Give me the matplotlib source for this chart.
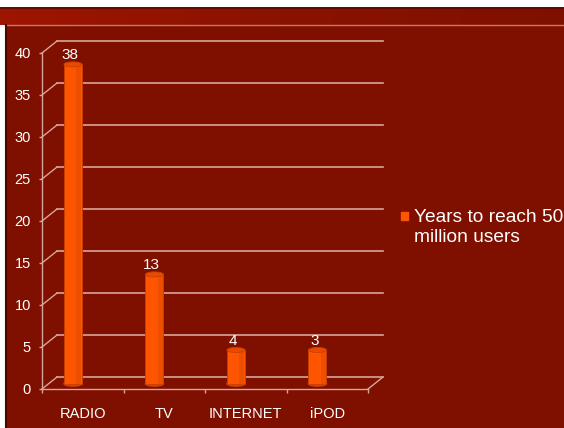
import matplotlib
matplotlib.use("Agg")
import matplotlib.pyplot as plt
import numpy as np
from matplotlib.patches import Rectangle, Ellipse
from matplotlib.colors import LinearSegmentedColormap

plt.rcParams["font.family"] = ["Liberation Sans", "DejaVu Sans"]

categories = ["RADIO", "TV", "INTERNET", "iPOD"]
years = [38, 13, 4, 4]              # bar heights as drawn
value_labels = ["38", "13", "4", "3"]  # labels as printed on the chart
legend_label = "Years to reach 50\nmillion users"
yticks = list(range(0, 41, 5))

W, H, DPI = 564, 428, 100
BG = "#7f1000"
GRID = "#d9a49b"
BAR = "#ff5500"

fig = plt.figure(figsize=(W / DPI, H / DPI), dpi=DPI)
fig.patch.set_facecolor("white")

# --- background (pixel coords) ---
bg = fig.add_axes([0, 0, 1, 1], zorder=-10)
band = LinearSegmentedColormap.from_list("band", ["#9e1500", "#8a1200", "#7f1000"])
bg.imshow(np.tile(np.linspace(0, 1, 512), (2, 1)), extent=(0, W, 25, 7), cmap=band,
          aspect="auto", interpolation="bilinear")
bg.add_patch(Rectangle((5, 25), W - 5, H - 25, color=BG, lw=0))
bg.plot([0, W], [7.5, 7.5], color="#5a0a00", lw=1.2)
bg.plot([5, W], [25, 25], color="#c8776d", lw=1.0)
bg.plot([5.5, 5.5], [25, H], color="#4a0700", lw=1.5)
bg.set_xlim(0, W); bg.set_ylim(H, 0); bg.axis("off")

# --- main axes: front plane of the 3D box ---
x0, x1, y0, y1 = 42, 368, 389, 53
ax = fig.add_axes([x0 / W, 1 - y0 / H, (x1 - x0) / W, (y0 - y1) / H])
ax.patch.set_alpha(0)
ax.set_xlim(0, 4); ax.set_ylim(0, 40)

dx = 15 / ((x1 - x0) / 4)   # depth offset in data units
dy = 12 / ((y0 - y1) / 40)

for s in ["top", "right"]:
    ax.spines[s].set_visible(False)
for s in ["left", "bottom"]:
    ax.spines[s].set_color(GRID); ax.spines[s].set_linewidth(1.0)

# back wall gridlines with diagonals to the front axis
for y in yticks:
    ax.plot([dx, 4 + dx], [y + dy, y + dy], color=GRID, lw=1.2, clip_on=False, zorder=1)
    ax.plot([0, dx], [y, y + dy], color=GRID, lw=1.0, clip_on=False, zorder=1)
ax.plot([4, 4 + dx], [0, dy], color=GRID, lw=1.0, clip_on=False, zorder=1)

ax.set_yticks(yticks)
ax.set_yticklabels([str(v) for v in yticks])
ax.tick_params(axis="y", colors=GRID, labelcolor="white", labelsize=10.5,
               length=2.5, width=1.0, pad=5.5)
ax.set_xticks([i + 0.5 for i in range(len(categories))])
ax.set_xticklabels(categories)
ax.set_xticks(range(len(categories) + 1), minor=True)
ax.tick_params(axis="x", which="major", length=0, labelcolor="white", labelsize=10.5, pad=13)
ax.tick_params(axis="x", which="minor", length=3, width=1.0, colors=GRID)

# cylinders
bw = 18 / ((x1 - x0) / 4)
eh = 5 / ((y0 - y1) / 40)
base = dy * 0.45
for i, (v, lab) in enumerate(zip(years, value_labels)):
    cx = i + 0.38
    ax.add_patch(Ellipse((cx, base), bw, eh, color="#d94400", zorder=3, clip_on=False))
    ax.bar(cx, v, bottom=base, width=bw, color=BAR, edgecolor="#c94000", lw=0.6,
           zorder=4, clip_on=False)
    ax.bar(cx + bw * 0.32, v, bottom=base, width=bw * 0.3, color="#ee4e00", lw=0,
           zorder=4, clip_on=False)
    ax.add_patch(Ellipse((cx, base + v), bw, eh, color="#e84a00", ec="#c94000",
                         lw=0.6, zorder=5, clip_on=False))
    ax.text(cx - 0.04, base + v + eh * 0.45, lab, color="white", fontsize=11,
            ha="center", va="bottom", zorder=6)

# legend
fig.add_artist(Rectangle((401 / W, 1 - 220 / H), 7 / W, 8 / H, color=BAR,
                         transform=fig.transFigure))
fig.text(414 / W, 1 - 209 / H, legend_label, color="white", fontsize=13.8,
         ha="left", va="top", linespacing=1.25)

fig.savefig("out.png", dpi=DPI)
